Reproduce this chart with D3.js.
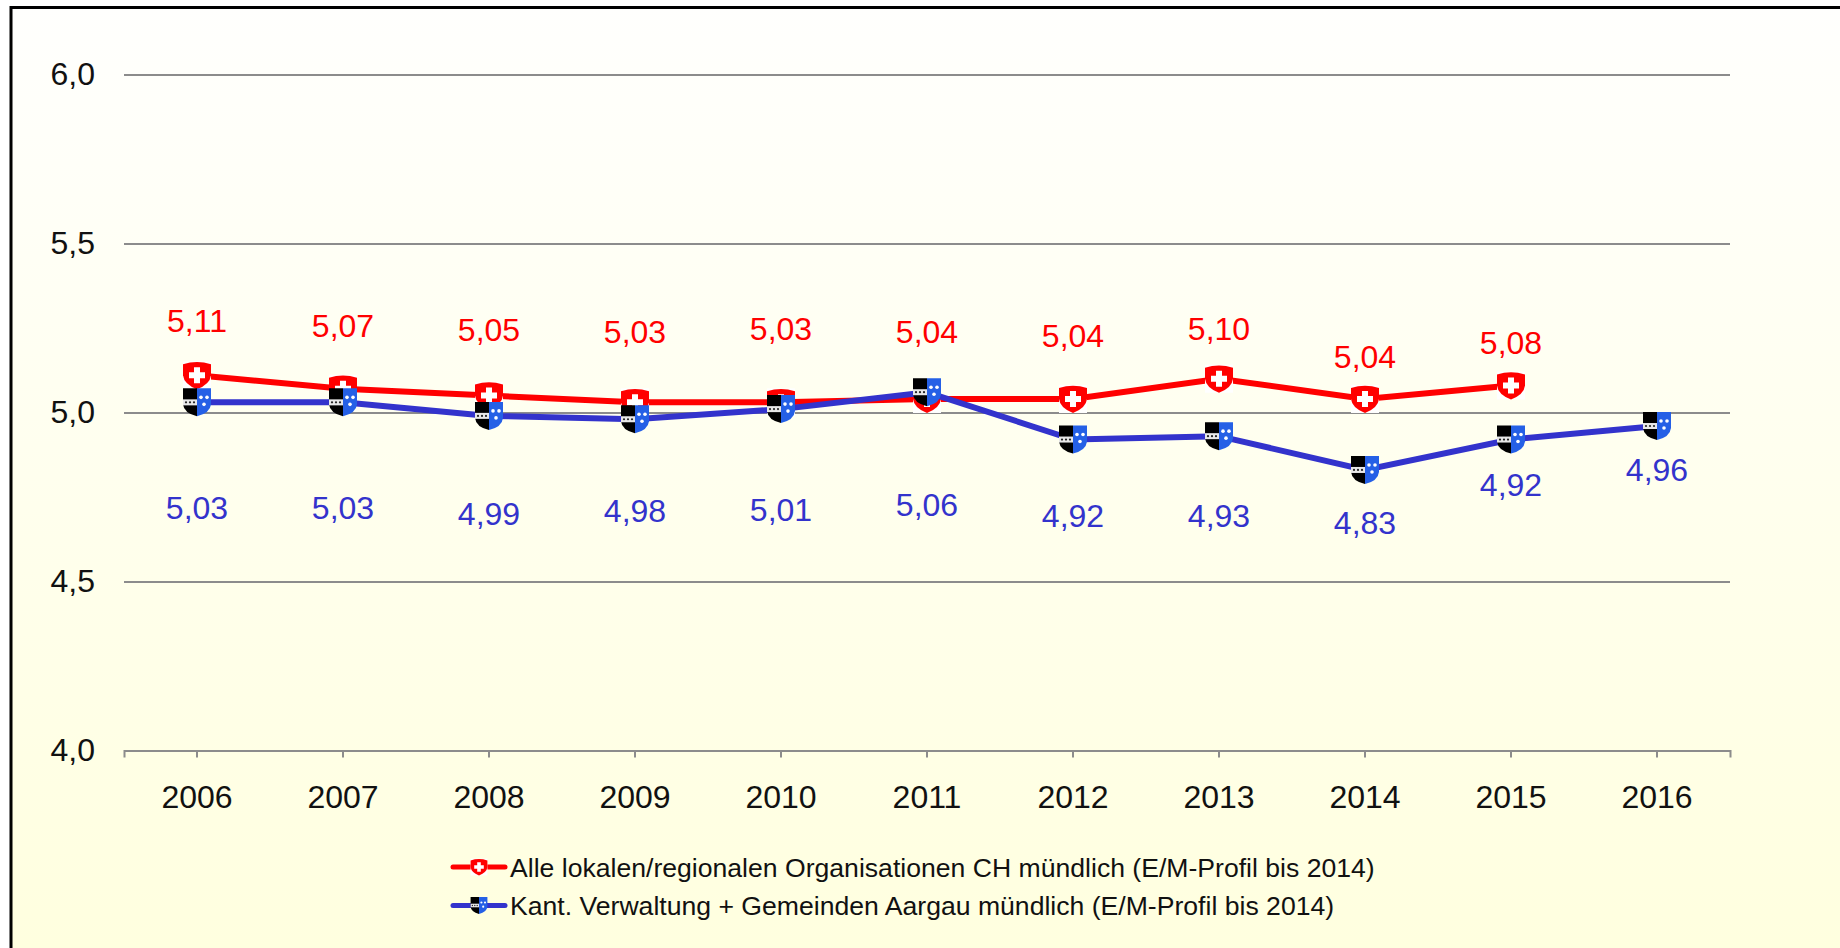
<!DOCTYPE html>
<html>
<head>
<meta charset="utf-8">
<script src="https://cdn.jsdelivr.net/npm/d3@7"></script>
<style>
  html, body { margin: 0; padding: 0; background: #fff; overflow: hidden; }
  text { font-family: "Liberation Sans", Arial, sans-serif; fill: #111; }
</style>
</head>
<body>
<div id="graph"></div>
<script>
const years = ['2006', '2007', '2008', '2009', '2010', '2011', '2012', '2013', '2014', '2015', '2016'];
const chValues = [5.11, 5.07, 5.05, 5.03, 5.03, 5.04, 5.04, 5.10, 5.04, 5.08, null];
const agValues = [5.03, 5.03, 4.99, 4.98, 5.01, 5.06, 4.92, 4.93, 4.83, 4.92, 4.96];
const yTicks = [4, 4.5, 5, 5.5, 6];
const chName = 'Alle lokalen/regionalen Organisationen CH mündlich (E/M-Profil bis 2014)';
const agName = 'Kant. Verwaltung + Gemeinden Aargau mündlich (E/M-Profil bis 2014)';

// hand placed in the original, so pixels relative to the point
const chLabelShift = [-55, -63, -66, -71, -74, -67, -63, -50, -42, -43, 0];
const agLabelShift = [105, 105, 98, 92, 101, 113, 76, 80, 53, 45, 44];

const red = '#ff0000';
const blue = '#3333cc';
const width = 1840;
const height = 948;
const deLocale = d3.formatLocale({ decimal: ',', thousands: '.', grouping: [3], currency: ['', ' CHF'] });
const fmt1 = deLocale.format('.1f');
const fmt2 = deLocale.format('.2f');

const svg = d3.select('#graph')
  .append('svg')
    .attr('width', width)
    .attr('height', height)
    .style('display', 'block');

const grad = svg.append('defs')
  .append('linearGradient')
    .attr('id', 'bg')
    .attr('x1', 0).attr('y1', 0).attr('x2', 0).attr('y2', 1);
grad.append('stop').attr('offset', '0%').attr('stop-color', '#fffffd');
grad.append('stop').attr('offset', '100%').attr('stop-color', '#ffffdd');

// frame runs off the right and bottom of the picture
svg.append('rect')
  .attr('x', 11)
  .attr('y', 7.5)
  .attr('width', 2000)
  .attr('height', 1000)
  .attr('fill', 'url(#bg)')
  .attr('stroke', '#000')
  .attr('stroke-width', 3);

const x = d3.scaleBand().domain(years).range([124, 1730]);
const y = d3.scaleLinear().domain([4, 6]).range([750.5, 74.5]);
const cx = (d) => x(d) + x.bandwidth() / 2;

const yAxis = svg.append('g')
  .attr('transform', 'translate(124,0)')
  .call(d3.axisLeft(y).tickValues(yTicks).tickFormat(fmt1).tickSize(-1606).tickPadding(29));
yAxis.select('.domain').remove();
yAxis.selectAll('line').attr('stroke', '#8c8c8c').attr('stroke-width', 2);
yAxis.selectAll('text').style('font-size', '32px').attr('fill', '#111');

const xAxis = svg.append('g')
  .attr('transform', 'translate(0,750.5)')
  .call(d3.axisBottom(x).tickSize(7).tickPadding(28));
xAxis.select('.domain').attr('stroke', '#8c8c8c').attr('stroke-width', 2);
xAxis.selectAll('line').attr('stroke', '#8c8c8c').attr('stroke-width', 2);
xAxis.selectAll('text').style('font-size', '32px').attr('fill', '#111');

const chShield = (g, s) => {
  const m = g.append('g').attr('transform', `scale(${s})`);
  m.append('rect').attr('x', -14).attr('y', -14).attr('width', 28).attr('height', 28).attr('fill', '#fff');
  m.append('path')
    .attr('d', 'M-14,-11 Q0,-15.5 14,-11 L14,0 Q13,9 0,14 Q-13,9 -14,0 Z')
    .attr('fill', red);
  m.append('path')
    .attr('d', 'M-3,-8 H3 V-3 H8 V3 H3 V8 H-3 V3 H-8 V-3 H-3 Z')
    .attr('fill', '#fff');
}

const agShield = (g, s) => {
  const m = g.append('g').attr('transform', `scale(${s})`);
  m.append('path')
    .attr('d', 'M-14,-14 H0 V14 Q-13,11 -14,2 Z')
    .attr('fill', '#000');
  m.append('path')
    .attr('d', 'M0,-14 H14 V2 Q13,11 0,14 Z')
    .attr('fill', '#2560e6');
  m.append('rect').attr('x', -14).attr('y', -3).attr('width', 14).attr('height', 6).attr('fill', '#e8e8e8');
  m.selectAll('circle.band')
    .data([-11, -7, -3])
    .join('circle')
      .attr('class', 'band')
      .attr('cx', d => d)
      .attr('cy', 0)
      .attr('r', 1.1)
      .attr('fill', '#222');
  m.selectAll('circle.star')
    .data([[4, -5], [10, -5], [7, 2]])
    .join('circle')
      .attr('class', 'star')
      .attr('cx', d => d[0])
      .attr('cy', d => d[1])
      .attr('r', 1.8)
      .attr('fill', '#fff');
}

const drawSeries = (values, color, shift, shield) => {
  const points = years
    .map((year, i) => ({ year, value: values[i], shift: shift[i] }))
    .filter(d => d.value !== null);

  svg.append('path')
    .datum(points)
    .attr('fill', 'none')
    .attr('stroke', color)
    .attr('stroke-width', 6)
    .attr('d', d3.line().x(d => cx(d.year)).y(d => y(d.value)));

  svg.selectAll()
    .data(points)
    .enter()
    .append('g')
      .attr('transform', d => `translate(${cx(d.year)},${y(d.value)})`)
      .each(function () { shield(d3.select(this), 1); });

  svg.selectAll()
    .data(points)
    .enter()
    .append('text')
      .attr('x', d => cx(d.year))
      .attr('y', d => y(d.value) + d.shift)
      .attr('dy', '.35em')
      .attr('text-anchor', 'middle')
      .style('font-size', '32px')
      .style('fill', color)
      .text(d => fmt2(d.value));
}

drawSeries(chValues, red, chLabelShift, chShield);
drawSeries(agValues, blue, agLabelShift, agShield);

const legend = [
  { name: chName, color: red, shield: chShield, y: 867 },
  { name: agName, color: blue, shield: agShield, y: 905.5 },
];

legend.forEach(d => {
  svg.append('line')
    .attr('x1', 453).attr('x2', 505)
    .attr('y1', d.y).attr('y2', d.y)
    .attr('stroke', d.color)
    .attr('stroke-width', 5)
    .attr('stroke-linecap', 'round');
  svg.append('g')
    .attr('transform', `translate(479,${d.y})`)
    .call(d.shield, 0.6);
  svg.append('text')
    .attr('x', 510)
    .attr('y', d.y + 9.5)
    .style('font-size', '26.6px')
    .text(d.name);
});
</script>
</body>
</html>
